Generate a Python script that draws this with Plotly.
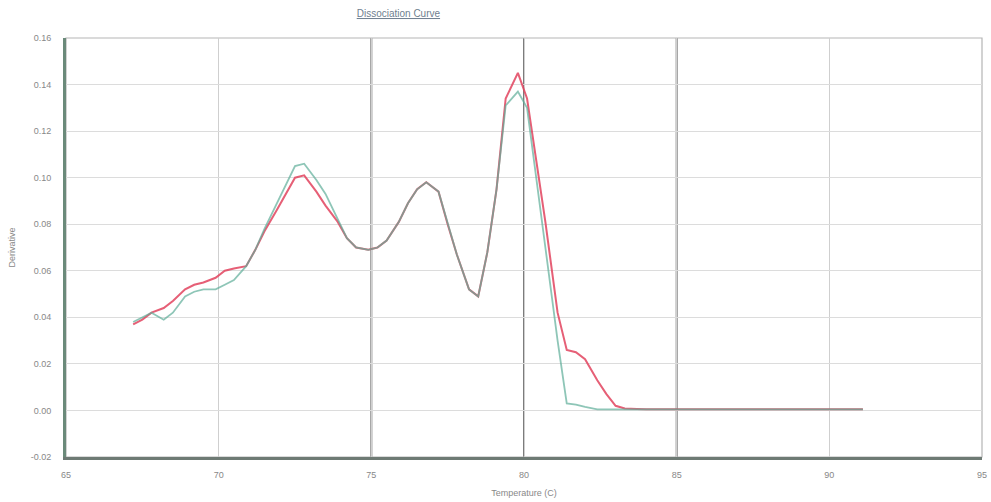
import plotly.graph_objects as go

temperature = [67.2, 67.5, 67.8, 68.2, 68.5, 68.9, 69.2, 69.5, 69.9, 70.2,
               70.5, 70.9, 71.2, 71.5, 71.9, 72.2, 72.5, 72.8, 73.2, 73.5,
               73.9, 74.2, 74.5, 74.9, 75.2, 75.5, 75.9, 76.2, 76.5, 76.8,
               77.2, 77.5, 77.8, 78.2, 78.5, 78.8, 79.1, 79.4, 79.8, 80.1,
               80.4, 80.7, 81.1, 81.4, 81.7, 82.0, 82.4, 82.7, 83.0, 83.3,
               83.7, 84.0, 85.0, 86.0, 87.0, 88.0, 89.0, 90.0, 91.1]

sample_red = [0.037, 0.039, 0.042, 0.044, 0.047, 0.052, 0.054, 0.055, 0.057, 0.060,
              0.061, 0.062, 0.069, 0.077, 0.086, 0.093, 0.100, 0.101, 0.094, 0.088,
              0.081, 0.074, 0.070, 0.069, 0.070, 0.073, 0.081, 0.089, 0.095, 0.098,
              0.094, 0.080, 0.067, 0.052, 0.049, 0.068, 0.095, 0.134, 0.145, 0.134,
              0.108, 0.081, 0.042, 0.026, 0.025, 0.022, 0.013, 0.007, 0.002, 0.0008,
              0.0006, 0.0005, 0.0005, 0.0005, 0.0005, 0.0005, 0.0005, 0.0005, 0.0005]

sample_teal = [0.038, 0.040, 0.042, 0.039, 0.042, 0.049, 0.051, 0.052, 0.052, 0.054,
               0.056, 0.062, 0.069, 0.078, 0.089, 0.097, 0.105, 0.106, 0.099, 0.093,
               0.082, 0.074, 0.070, 0.069, 0.070, 0.073, 0.081, 0.089, 0.095, 0.098,
               0.094, 0.080, 0.067, 0.052, 0.049, 0.068, 0.095, 0.131, 0.137, 0.130,
               0.100, 0.070, 0.030, 0.003, 0.0025, 0.0015, 0.0005, 0.0005, 0.0005, 0.0005,
               0.0005, 0.0005, 0.0005, 0.0005, 0.0005, 0.0005, 0.0005, 0.0005, 0.0005]

x_ticks = [65, 70, 75, 80, 85, 90, 95]
dark_grid_x = [75, 80, 85]
y_ticks = [-0.02, 0.00, 0.02, 0.04, 0.06, 0.08, 0.10, 0.12, 0.14, 0.16]

fig = go.Figure()
fig.add_trace(go.Scatter(x=temperature, y=sample_red, mode="lines",
                         line=dict(color="#e2445f", width=2), opacity=0.85,
                         showlegend=False))
fig.add_trace(go.Scatter(x=temperature, y=sample_teal, mode="lines",
                         line=dict(color="#5fae9a", width=1.8), opacity=0.7,
                         showlegend=False))

fig.update_layout(
    width=991, height=502,
    margin=dict(l=66, r=9, t=38, b=45),
    paper_bgcolor="white", plot_bgcolor="white",
    font=dict(family="Liberation Sans, Arial, sans-serif", size=9, color="#888888"),
    title=dict(text="<u>Dissociation Curve</u>", x=0.402, xanchor="center",
               y=0.98, yanchor="top",
               font=dict(size=10, color="#6f7f8f")),
    xaxis=dict(range=[65, 95], tickvals=x_ticks, ticktext=[str(v) for v in x_ticks],
               showgrid=True, gridcolor="#cfcfcf", gridwidth=1, automargin=False,
               showline=True, linecolor="#6e7a74", linewidth=2.5, mirror=False,
               zeroline=False, ticks="", ticklabelstandoff=7,
               title=dict(text="Temperature (C)", standoff=12,
                          font=dict(size=9, color="#888888"))),
    yaxis=dict(range=[-0.02, 0.16], tickvals=y_ticks,
               ticktext=["%.2f" % v for v in y_ticks],
               showgrid=True, gridcolor="#dcdcdc", gridwidth=1.2, automargin=False,
               showline=True, linecolor="#6b8a7a", linewidth=3,
               zeroline=False, ticks="", ticklabelstandoff=10,
               title=dict(text="Derivative", standoff=14,
                          font=dict(size=9, color="#888888"))),
)

# darker vertical grid lines
for gx in dark_grid_x:
    fig.add_shape(type="line", xref="x", yref="paper", x0=gx, x1=gx, y0=0, y1=1,
                  line=dict(color="#7c7c7c", width=2), layer="between")

# top/right frame
fig.add_shape(type="rect", xref="paper", yref="paper", x0=0, y0=0, x1=1, y1=1,
              line=dict(color="#b5b5b5", width=1.2), layer="between")

fig.write_html("out.html")
